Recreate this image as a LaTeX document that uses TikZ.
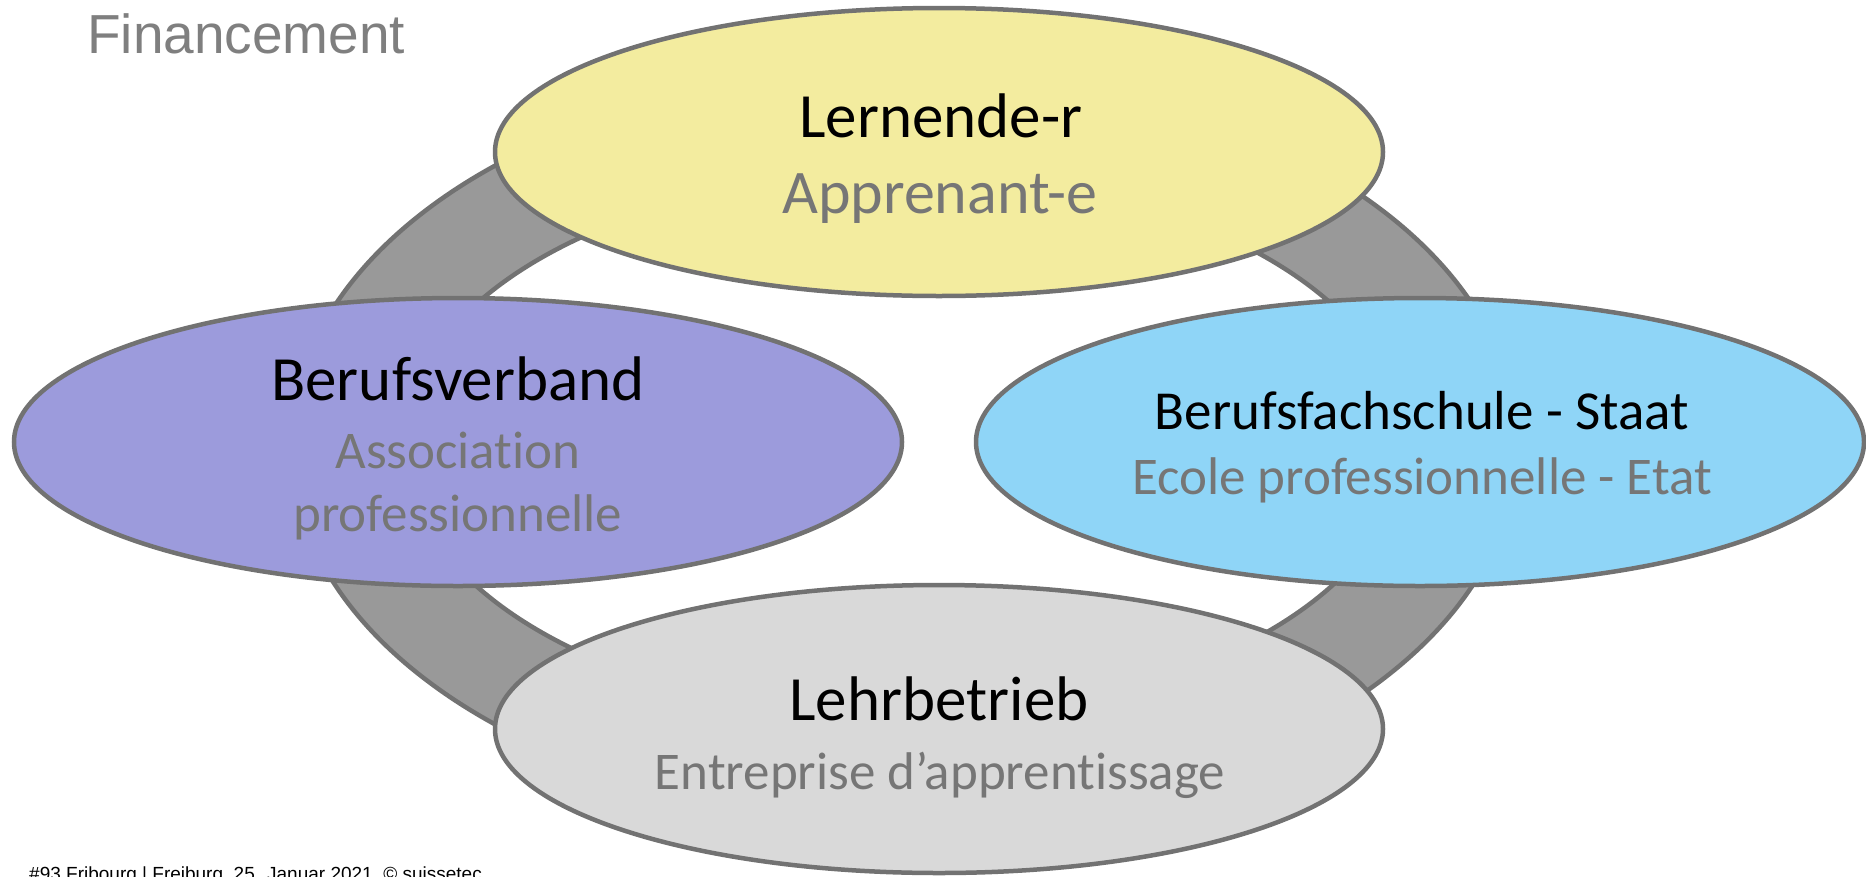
\documentclass[tikz,border=0pt]{standalone}
\usepackage{fontspec}
\newfontfamily\bodyfont[Ligatures=NoCommon]{Carlito}
\newfontfamily\headfont{Liberation Sans}
\usetikzlibrary{shapes.geometric}

\definecolor{edgegray}{HTML}{727272}
\definecolor{ringgray}{HTML}{999999}
\definecolor{learnerfill}{HTML}{F3EC9F}
\definecolor{assocfill}{HTML}{9C9BDC}
\definecolor{schoolfill}{HTML}{8FD5F7}
\definecolor{companyfill}{HTML}{D9D9D9}
\definecolor{subgray}{HTML}{767676}
\definecolor{headgray}{HTML}{7F7F7F}

\tikzset{
  bubble/.style={ellipse, draw=edgegray, line width=4.5pt,
    minimum width=888pt, minimum height=288pt, inner sep=0pt},
  delabel/.style={font=\bodyfont\fontsize{63}{63}\selectfont, text=black,
    inner sep=0pt, anchor=base},
  frlabel/.style={font=\bodyfont\fontsize{53}{53}\selectfont, text=subgray,
    inner sep=0pt, anchor=base},
}

\begin{document}
\begin{tikzpicture}[x=1pt,y=-1pt]
\useasboundingbox (0,0) rectangle (1866,876);
\clip (0,0) rectangle (1866,876);

% ring linking the four partners
\path[fill=ringgray, draw=edgegray, line width=4.5pt, even odd rule]
  (904,445) ellipse [x radius=613pt, y radius=375pt]
  (904,445) ellipse [x radius=500pt, y radius=272pt];

% partners
\node[bubble, fill=learnerfill] (learner) at (939,152) {};
\node[bubble, fill=assocfill]   (assoc)   at (458,442) {};
\node[bubble, fill=schoolfill]  (school)  at (1420,442) {};
\node[bubble, fill=companyfill] (company) at (939,729) {};

% labels
\node[delabel] (learnerde) at (941,137) {Lernende-r};
\node[frlabel, font=\bodyfont\fontsize{62}{62}\selectfont] (learnerfr) at (940,213) {Apprenant-e};

\node[delabel] (assocde)  at (458,400) {Berufsverband};
\node[frlabel] (assocfr1) at (458,468) {Association};
\node[frlabel] (assocfr2) at (458,531) {professionnelle};

\node[delabel, font=\bodyfont\fontsize{55}{55}\selectfont] (schoolde) at (1422,429) {Berufsfachschule - Staat};
\node[frlabel] (schoolfr) at (1422,494) {Ecole professionnelle - Etat};

\node[delabel] (companyde) at (939,720) {Lehrbetrieb};
\node[frlabel] (companyfr) at (940,789) {Entreprise d’apprentissage};

% heading and footer
\node[font=\headfont\fontsize{55}{55}\selectfont, text=headgray, inner sep=0pt,
  anchor=base west] (heading) at (87,53) {Financement};
\node[font=\headfont\fontsize{19}{19}\selectfont, text=black, inner sep=0pt,
  anchor=base west] (footer) at (29,880) {\#93 Fribourg | Freiburg, 25. Januar 2021, © suissetec};
\end{tikzpicture}
\end{document}
